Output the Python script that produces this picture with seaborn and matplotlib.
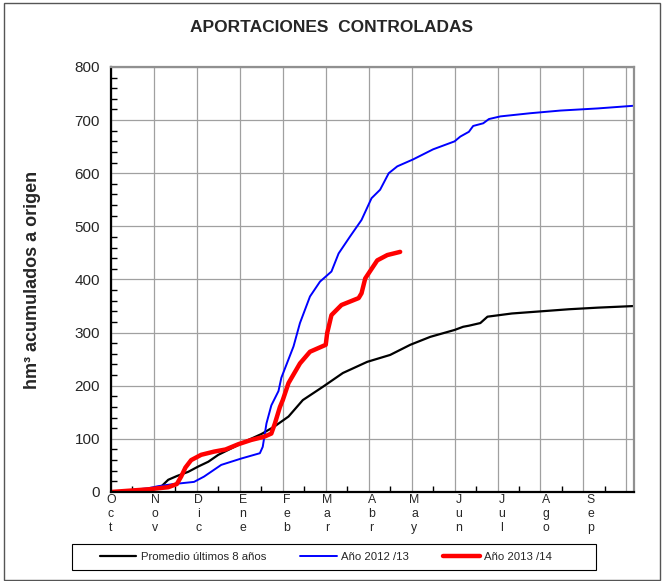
import numpy as np
import matplotlib
matplotlib.use("Agg")
import matplotlib.pyplot as plt
import seaborn as sns
from matplotlib.ticker import MultipleLocator
from matplotlib.patches import Rectangle

# days since 1 Oct -> accumulated hm3
prom_days = [0, 26, 35, 40, 46, 54, 61, 68, 75, 84, 96, 105, 114, 124, 134, 148,
             162, 179, 195, 209, 223, 240, 246, 250, 258, 263, 280, 300, 320, 340, 365]
prom_vals = [0, 4, 10, 23, 30, 38, 48, 57, 70, 82, 98, 109, 123, 142, 173, 198,
             224, 245, 258, 277, 292, 305, 311, 313, 318, 330, 336, 340, 344, 347, 350]

y1213_days = [0, 26, 33, 44, 58, 65, 77, 91, 104, 106, 108.6, 112, 117, 119, 127.5,
              132, 139, 146, 154, 159, 167, 175, 182, 188, 194, 200, 211, 225, 240,
              244, 250, 253, 260, 264, 272, 293, 314, 340, 365]
y1213_vals = [0, 7, 11, 15, 19, 29, 51, 63, 73, 85, 129, 163, 190, 215, 274,
              318, 368, 396, 415, 449, 481, 512, 553, 569, 600, 613, 626, 645, 660,
              669, 678, 689, 694, 702, 707, 713, 718, 722, 727]

y1314_days = [0, 26, 40, 46, 49, 52, 56, 63, 72, 80, 89, 98, 107, 112, 114.5, 118,
              120, 124, 132, 139, 150, 151, 154, 161, 173, 175, 177.6, 186, 193, 202]
y1314_vals = [0, 5, 9, 15, 29, 46, 60, 70, 76, 80, 90, 98, 104, 110, 129, 160,
              173, 205, 242, 264, 277, 299, 333, 352, 365, 374, 402, 436, 446, 452]

months = ["Oct", "Nov", "Dic", "Ene", "Feb", "Mar", "Abr", "May", "Jun", "Jul", "Ago", "Sep"]
month_start = [0, 31, 61, 92, 123, 151, 182, 212, 243, 273, 304, 335]

sns.set_style("white")
plt.rcParams['font.family'] = ['Liberation Sans', 'DejaVu Sans']

fig = plt.figure(figsize=(6.67, 5.81), dpi=100)
ax = fig.add_axes([0.1664, 0.1532, 0.9498 - 0.1664, 0.8847 - 0.1532])

sns.lineplot(x=prom_days, y=prom_vals, ax=ax, color="black", linewidth=1.6,
             label="Promedio últimos 8 años")
sns.lineplot(x=y1213_days, y=y1213_vals, ax=ax, color="#0000ff", linewidth=1.4,
             label="Año 2012 /13")
sns.lineplot(x=y1314_days, y=y1314_vals, ax=ax, color="#ff0000", linewidth=3.2,
             label="Año 2013 /14")

ax.set_xlim(0, 365)
ax.set_ylim(0, 800)
ax.xaxis.set_major_locator(MultipleLocator(30))
ax.xaxis.set_minor_locator(MultipleLocator(15))
ax.yaxis.set_major_locator(MultipleLocator(100))
ax.yaxis.set_minor_locator(MultipleLocator(20))
ax.grid(True, which="major", color="#a0a0a0", linewidth=0.9)
ax.set_xticklabels([])
ax.tick_params(axis="x", which="major", direction="inout", length=7, width=1, color="black")
ax.tick_params(axis="x", which="minor", direction="in", length=4, width=1, color="black", bottom=True)
ax.tick_params(axis="y", which="major", direction="inout", length=8, width=1, color="black",
               labelsize=11, pad=4)
ax.tick_params(axis="y", which="minor", direction="in", length=4, width=1, color="black", left=True)

for lab, d in zip(months, month_start):
    ax.text(d, -4, "\n".join(lab), ha="center", va="top", fontsize=8.8,
            linespacing=1.2)

for s in ["left", "bottom"]:
    ax.spines[s].set_color("black")
    ax.spines[s].set_linewidth(1.6)
for s in ["top", "right"]:
    ax.spines[s].set_color("#909090")
    ax.spines[s].set_linewidth(1.6)

ax.set_xlabel("")
ax.set_ylabel("hm³ acumulados a origen", fontsize=13, fontweight="bold", labelpad=24)
fig.text(0.497, 1 - 27 / 581, "APORTACIONES  CONTROLADAS", ha="center", va="center",
         fontsize=12.5, fontweight="bold")

handles, labels = ax.get_legend_handles_labels()
ax.get_legend().remove()
leg = fig.legend(handles, labels, loc="center", bbox_to_anchor=(326 / 667, 1 - 557 / 581),
                 ncol=3, fontsize=8.2, frameon=False,
                 handlelength=3.2, columnspacing=3.0, handletextpad=0.4,
                 borderaxespad=0)
fig.patches.append(Rectangle((72 / 667, 1 - 570 / 581), 524 / 667, 26 / 581,
                             transform=fig.transFigure, fill=False,
                             edgecolor="black", linewidth=0.8))

fig.patches.append(Rectangle((4 / 667, 0.002), 656 / 667, 1 - 3 / 581 - 0.002,
                             transform=fig.transFigure, fill=False,
                             edgecolor="#555555", linewidth=1.0))

fig.savefig("out.png", dpi=100)
